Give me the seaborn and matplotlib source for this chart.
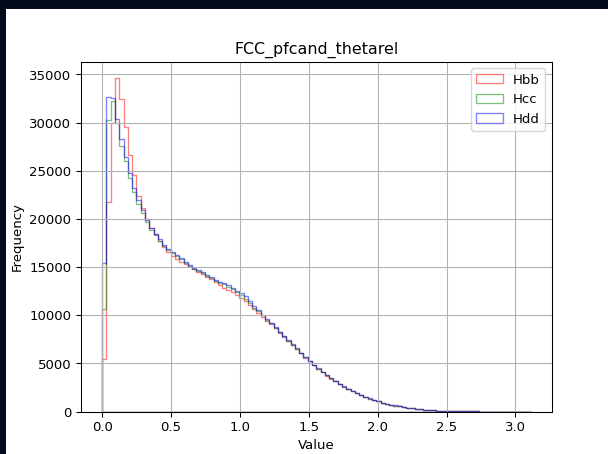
import numpy as np
import pandas as pd
import matplotlib
matplotlib.use("Agg")
import matplotlib.pyplot as plt
from matplotlib.patches import Rectangle
import seaborn as sns

# histogram: 100 bins between 0 and 3.11
lo, hi, nbins = 0.0, 3.11, 100
edges = np.linspace(lo, hi, nbins + 1)
centers = (edges[:-1] + edges[1:]) / 2

hbb = [5440, 21800, 30000, 34600, 32400, 29500, 26600, 24600, 22400, 21100,
       20000, 19100, 18400, 17700, 17100, 16600, 16100, 15800, 15550, 15300,
       15000, 14750, 14500, 14250, 14000, 13750, 13450, 13150, 12850, 12600,
       12400, 12100, 11800, 11450, 11050, 10650, 10250, 9850, 9450, 9050,
       8650, 8200, 7750, 7300, 6900, 6450, 6050, 5600, 5200, 4800,
       4420, 4080, 3730, 3430, 3130, 2840, 2590, 2340, 2090, 1890,
       1690, 1510, 1340, 1190, 1050, 920, 810, 710, 620, 535,
       465, 395, 335, 285, 238, 198, 162, 133, 108, 86,
       68, 54, 42, 33, 25, 19, 14, 11, 8, 6,
       5, 4, 3, 2, 2, 1, 1, 1, 0, 1]

hcc = [10700, 30300, 32200, 30000, 27600, 26000, 24300, 22800, 21600, 20600,
       19700, 18900, 18300, 17700, 17200, 16800, 16500, 16150, 15800, 15400,
       15100, 14850, 14600, 14350, 14100, 13850, 13600, 13400, 13200, 12950,
       12700, 12400, 12100, 11700, 11250, 10800, 10400, 10000, 9550, 9150,
       8700, 8250, 7800, 7350, 6950, 6500, 6100, 5650, 5250, 4850,
       4450, 4100, 3750, 3450, 3150, 2850, 2600, 2350, 2100, 1900,
       1700, 1520, 1350, 1200, 1060, 930, 820, 720, 630, 540,
       470, 400, 340, 290, 240, 200, 165, 135, 110, 88,
       70, 55, 43, 34, 26, 20, 15, 11, 8, 6,
       5, 4, 3, 2, 2, 1, 1, 1, 0, 1]

hdd = [15400, 32700, 32600, 30400, 28300, 26400, 24800, 23200, 22000, 20900,
       19900, 19100, 18400, 17900, 17300, 16900, 16600, 16250, 15900, 15550,
       15200, 14950, 14700, 14450, 14200, 13950, 13700, 13500, 13300, 13100,
       12850, 12550, 12300, 11950, 11500, 11000, 10500, 10050, 9600, 9200,
       8750, 8300, 7850, 7400, 6980, 6550, 6130, 5680, 5280, 4870,
       4480, 4120, 3770, 3460, 3160, 2860, 2610, 2360, 2110, 1910,
       1710, 1530, 1360, 1210, 1070, 940, 825, 725, 635, 545,
       472, 402, 342, 292, 242, 202, 166, 136, 111, 89,
       71, 56, 44, 34, 26, 20, 15, 11, 8, 6,
       5, 4, 3, 2, 2, 1, 1, 1, 0, 1]

labels = ["Hbb", "Hcc", "Hdd"]
colors = ["red", "green", "blue"]

fig = plt.figure(figsize=(6.4, 4.78), dpi=95)
fig.patch.set_facecolor("#030a1c")
# white area of the screenshot (dark strip at top and left)
fig.add_artist(Rectangle((6 / 608, 0), 1, 1 - 9 / 454, transform=fig.transFigure,
                         facecolor="white", edgecolor="none", zorder=-10))

ax = fig.add_axes([80.7 / 608, 42.4 / 454, 471.3 / 608, 349.9 / 454])

for counts, lab, col in zip([hbb, hcc, hdd], labels, colors):
    df = pd.DataFrame({"value": centers, "count": counts})
    sns.histplot(data=df, x="value", weights="count", bins=nbins,
                 binrange=(lo, hi), element="step",
                 fill=True, color=col, facecolor="none",
                 edgecolor=matplotlib.colors.to_rgba(col, 0.5),
                 linewidth=1, label=lab, ax=ax)

ax.set_ylim(bottom=0)
ax.set_title("FCC_pfcand_thetarel")
ax.set_xlabel("Value")
ax.set_ylabel("Frequency")
ax.grid(True)
ax.legend(loc="upper right")

fig.savefig("out.png", dpi=95, facecolor=fig.get_facecolor())
